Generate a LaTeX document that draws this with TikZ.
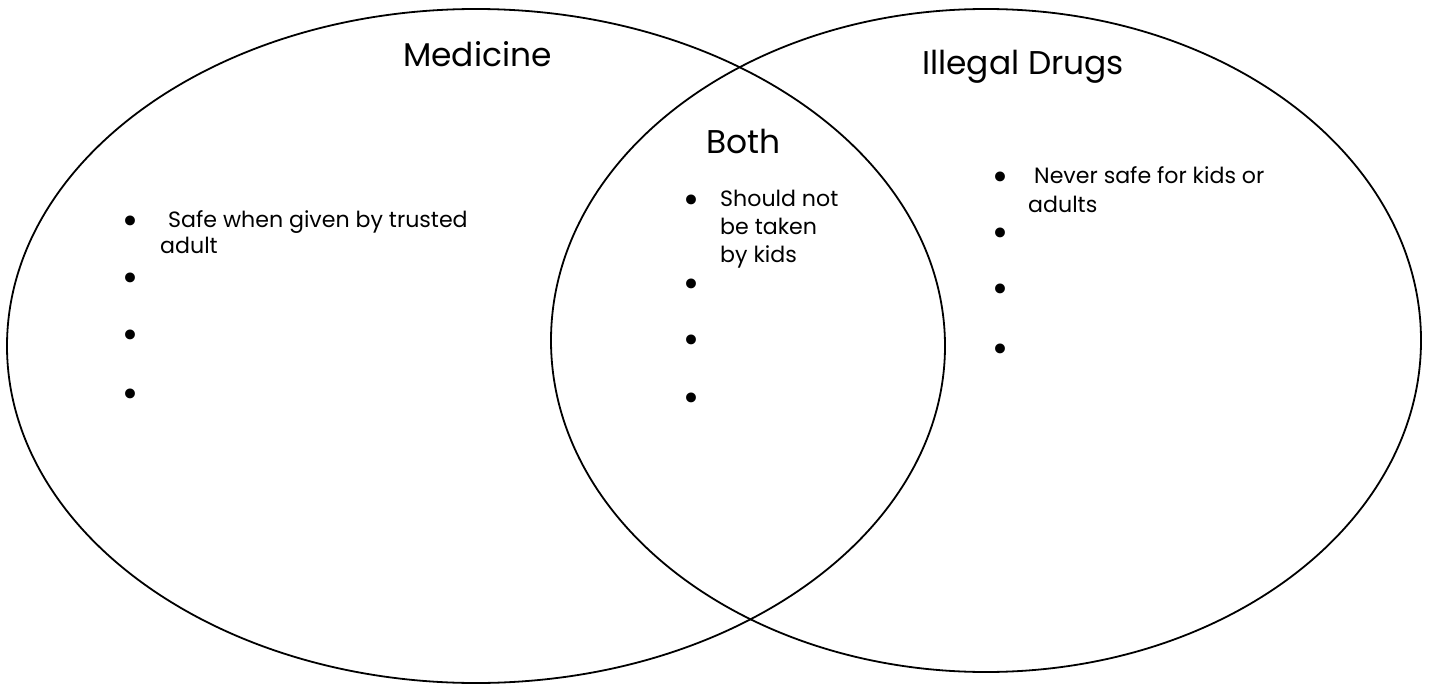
\documentclass[tikz,border=0pt]{standalone}
\usepackage{fontspec}
\setmainfont{Poppins}
\newfontfamily\bulletfont{DejaVu Sans}
\begin{document}
\begin{tikzpicture}[x=1bp,y=-1bp,
  ring/.style={draw=black,line width=1.8bp},
  heading/.style={font=\fontsize{33}{39}\selectfont,anchor=base west,inner sep=0},
  itemline/.style={font=\fontsize{22.2}{27}\selectfont,anchor=base west,inner sep=0},
  dot/.style={font=\bulletfont\fontsize{34}{34}\selectfont,inner sep=0,yshift=-4.5bp}]
\useasboundingbox (0,0) rectangle (1429,686);

% the two overlapping sets
\draw[ring] (476,346) ellipse [x radius=469, y radius=337];
\draw[ring] (986,340.5) ellipse [x radius=435, y radius=331.5];

% headings
\node[heading] (hmed)  at (403,67)  {Medicine};
\node[heading] (hill)  at (922,75)  {Illegal Drugs};
\node[heading] (hboth) at (706,153) {Both};

% Medicine items
\node[dot] (m1) at (130,220) {•};
\node[dot] (m2) at (130,277) {•};
\node[dot] (m3) at (130,334) {•};
\node[dot] (m4) at (130,393) {•};
\node[itemline] (m1a) at (168,227) {Safe when given by trusted};
\node[itemline] (m1b) at (160,253) {adult};

% shared items
\node[dot] (b1) at (691,199) {•};
\node[dot] (b2) at (691,283) {•};
\node[dot] (b3) at (691,339) {•};
\node[dot] (b4) at (691,397) {•};
\node[itemline] (b1a) at (720,206) {Should not};
\node[itemline] (b1b) at (720,234) {be taken};
\node[itemline] (b1c) at (720,262) {by kids};

% Illegal Drugs items
\node[dot] (d1) at (1000,176) {•};
\node[dot] (d2) at (1000,232) {•};
\node[dot] (d3) at (1000,288) {•};
\node[dot] (d4) at (1000,348) {•};
\node[itemline] (d1a) at (1034,183) {Never safe for kids or};
\node[itemline] (d1b) at (1028,212) {adults};
\end{tikzpicture}
\end{document}
